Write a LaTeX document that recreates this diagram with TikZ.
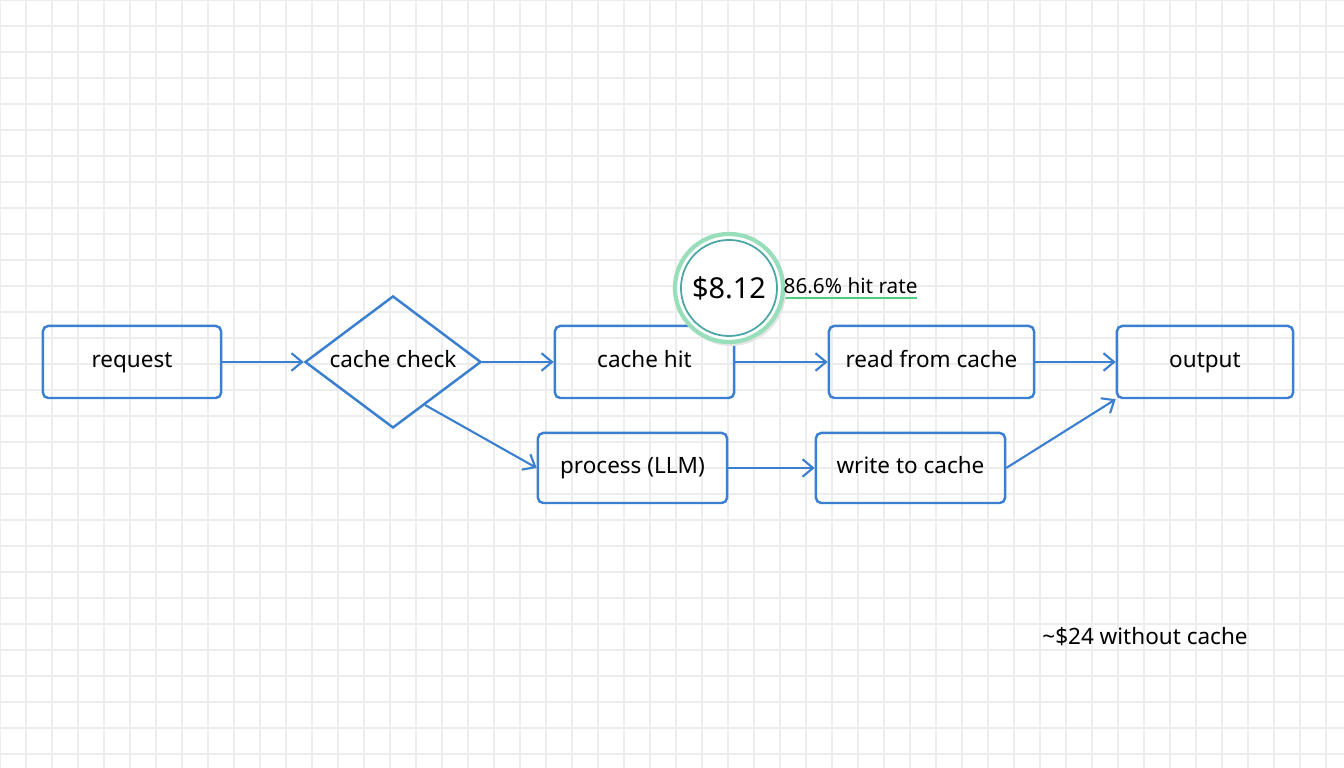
\documentclass[tikz,border=0pt]{standalone}
\usepackage{fontspec}
\setmainfont{Noto Sans}
\usetikzlibrary{shapes.geometric,arrows.meta}
\definecolor{bl}{HTML}{3A7FD0}
\begin{document}
\begin{tikzpicture}[x=0.01cm,y=-0.01cm,
 box/.style={draw=bl,line width=0.7pt,rounded corners=1.5pt,font=\fontsize{6.4}{7}\selectfont,inner sep=0pt,text height=4.6pt,text depth=1.3pt},
 arr/.style={draw=bl,line width=0.6pt,-{Straight Barb[length=3pt,width=5pt]}}]
\fill[white] (0,0) rectangle (1344,768);
\useasboundingbox (0,0) rectangle (1344,768);
\foreach \i in {0,...,52} {\draw[black!7,line width=0.3pt] (\i*26,0) -- (\i*26,768);}
\foreach \j in {0,...,30} {\draw[black!7,line width=0.3pt] (0,\j*26) -- (1344,\j*26);}
\node[box,minimum width=1.78cm,minimum height=0.72cm] (req) at (132,362) {request};
\node[box,diamond,rounded corners=0pt,minimum width=1.76cm,minimum height=1.32cm,aspect=1.33] (cc) at (393,362) {cache check};
\node[box,minimum width=1.79cm,minimum height=0.72cm] (hit) at (644.5,362) {cache hit};
\node[box,minimum width=2.05cm,minimum height=0.72cm] (read) at (931.5,362) {read from cache};
\node[box,minimum width=1.76cm,minimum height=0.72cm] (out) at (1205,362) {output};
\node[box,minimum width=1.89cm,minimum height=0.70cm] (proc) at (632.5,468) {process (LLM)};
\node[box,minimum width=1.89cm,minimum height=0.70cm] (write) at (910.5,468) {write to cache};
\coordinate (ccb) at (425,405);
\draw[arr] (req) -- (cc);
\draw[arr] (cc.east) -- (hit);
\draw[arr] (ccb) -- (proc.west);
\draw[arr] (hit) -- (read);
\draw[arr] (read) -- (out);
\draw[arr] (proc) -- (write);
\draw[arr] (write.east) -- (out.south west);
\draw[green!45!teal!70,line width=0.8pt] (783,298) -- (917,298);
\fill[black!10] (731,291) circle (0.55cm);
\node[circle,draw=green!35!teal!40,fill=white,line width=1.2pt,minimum size=1.08cm,inner sep=0pt] (c) at (729,288) {};
\node[circle,draw=teal!70,line width=0.5pt,minimum size=0.96cm,inner sep=0pt,font=\fontsize{8.2}{10}\selectfont] (ci) at (729,288) {\$8.12};
\node[anchor=west,font=\fontsize{5.9}{7}\selectfont,inner sep=0pt] (hr) at (783,286) {86.6\% hit rate};
\node[font=\fontsize{6.4}{7}\selectfont,inner sep=0pt] (w) at (1145,637) {\textasciitilde\$24 without cache};
\end{tikzpicture}
\end{document}
